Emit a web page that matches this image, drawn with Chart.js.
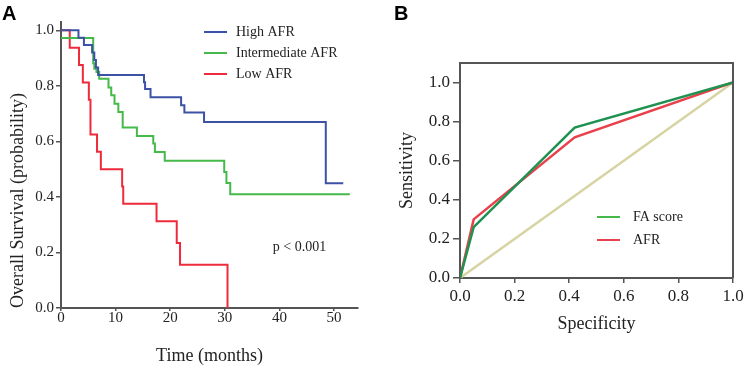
<!DOCTYPE html>
<html>
<head>
<meta charset="utf-8">
<script src="https://cdn.jsdelivr.net/npm/chart.js@4.4.0/dist/chart.umd.min.js"></script>
<style>
  html, body { margin: 0; padding: 0; background: #fff; }
  #wrap { position: relative; width: 749px; height: 370px; }
  canvas { position: absolute; top: 0; }
  #kmChart { left: 0; }
  #rocChart { left: 380px; }
</style>
</head>
<body>
<div id="wrap">
  <canvas id="kmChart" width="380" height="370"></canvas>
  <canvas id="rocChart" width="369" height="370"></canvas>
</div>
<script>
// Panel A - Kaplan-Meier curves (time in months, survival probability)
const highTime = [0, 3.2, 4.2, 5.7, 6.1, 6.4, 6.8, 15.2, 15.4, 16.4, 22.0, 22.6, 26.2, 48.5, 51.7];
const highSurv = [1.0, 0.973, 0.947, 0.92, 0.893, 0.866, 0.839, 0.813, 0.789, 0.759, 0.730, 0.704, 0.670, 0.449, 0.449];

const intTime = [0, 5.9, 6.1, 6.5, 7.0, 8.7, 9.2, 9.8, 10.5, 11.3, 13.9, 16.9, 17.2, 19.0, 29.9, 30.3, 31.0, 52.9];
const intSurv = [0.972, 0.881, 0.862, 0.850, 0.826, 0.794, 0.766, 0.736, 0.706, 0.650, 0.619, 0.592, 0.562, 0.530, 0.490, 0.450, 0.410, 0.410];

const lowTime = [0, 1.6, 3.3, 4.0, 5.1, 5.4, 6.6, 7.3, 11.2, 11.4, 17.5, 21.2, 21.8, 30.5];
const lowSurv = [1.0, 0.9375, 0.875, 0.8125, 0.75, 0.625, 0.5625, 0.5, 0.4375, 0.375, 0.3125, 0.234, 0.156, 0];

const timeTicks = [0, 10, 20, 30, 40, 50];
const probTicks = [0, 0.2, 0.4, 0.6, 0.8, 1.0];

// Panel B - ROC curves
const faX = [0, 0.05, 0.42, 1];
const faY = [0, 0.26, 0.77, 1];
const afrX = [0, 0.05, 0.42, 1];
const afrY = [0, 0.30, 0.72, 1];
const refX = [0, 1];
const refY = [0, 1];
const rocTicks = [0, 0.2, 0.4, 0.6, 0.8, 1.0];

const serif = "'Liberation Serif', 'Times New Roman', serif";
const axisColor = '#555';
const textColor = '#222';

function toPoints(xs, ys) {
  return xs.map((x, i) => ({ x: x, y: ys[i] }));
}

// fixed tick list, so a non-round max doesn't swallow the last label
function useTicks(values) {
  return scale => {
    scale.ticks = values.map(v => ({ value: v }));
  };
}

// panel letter, line legend, free note and optional box
const overlay = {
  id: 'overlay',
  afterDraw(chart, args, opts) {
    const ctx = chart.ctx;
    const area = chart.chartArea;
    ctx.save();

    if (opts.box) {
      ctx.strokeStyle = axisColor;
      ctx.lineWidth = 2;
      ctx.beginPath();
      ctx.moveTo(area.left, area.top);
      ctx.lineTo(area.right, area.top);
      ctx.lineTo(area.right, area.bottom);
      ctx.stroke();
    }

    ctx.fillStyle = '#000';
    ctx.font = "bold 20px 'Liberation Sans', Arial, sans-serif";
    ctx.textAlign = 'left';
    ctx.textBaseline = 'alphabetic';
    ctx.fillText(opts.letter, opts.letterX, 20);

    ctx.font = '14px ' + serif;
    ctx.textBaseline = 'middle';
    const items = chart.data.datasets.filter(d => d.inLegend);
    items.forEach((d, i) => {
      const y = opts.legendY + i * opts.legendGap;
      ctx.strokeStyle = d.legendColor || d.borderColor;
      ctx.lineWidth = 2;
      ctx.beginPath();
      ctx.moveTo(opts.legendX, y);
      ctx.lineTo(opts.legendX + 23, y);
      ctx.stroke();
      ctx.fillStyle = textColor;
      ctx.fillText(d.label, opts.legendX + opts.textGap, y);
    });

    if (opts.note) {
      ctx.fillStyle = textColor;
      ctx.fillText(opts.note.text,
        chart.scales.x.getPixelForValue(opts.note.x),
        chart.scales.y.getPixelForValue(opts.note.y));
    }
    ctx.restore();
  }
};

function axis(cfg) {
  return {
    type: 'linear',
    min: cfg.min,
    max: cfg.max,
    afterBuildTicks: useTicks(cfg.ticks),
    afterFit: cfg.fit,
    ticks: {
      color: textColor,
      padding: cfg.pad,
      font: { family: serif, size: cfg.size },
      callback: cfg.fmt
    },
    grid: { drawOnChartArea: false, tickLength: cfg.tick, color: axisColor, lineWidth: 1.5 },
    border: { color: axisColor, width: 2 },
    title: {
      display: true,
      text: cfg.title,
      color: textColor,
      align: cfg.align || 'center',
      font: { family: serif, size: 18 },
      padding: cfg.titlePad
    }
  };
}

new Chart(document.getElementById('kmChart'), {
  type: 'line',
  data: {
    datasets: [
      { label: 'High AFR', data: toPoints(highTime, highSurv), borderColor: '#3c52a5', inLegend: true },
      { label: 'Intermediate AFR', data: toPoints(intTime, intSurv), borderColor: '#45b94a', inLegend: true },
      { label: 'Low AFR', data: toPoints(lowTime, lowSurv), borderColor: '#ee2b3b', inLegend: true }
    ].map(d => Object.assign(d, { stepped: 'before', borderWidth: 2, pointRadius: 0, fill: false }))
  },
  options: {
    responsive: false,
    animation: false,
    layout: { padding: { left: 0, top: 22, right: 22, bottom: 0 } },
    plugins: {
      legend: { display: false },
      tooltip: { enabled: false },
      overlay: {
        letter: 'A', letterX: 2,
        legendX: 204, legendY: 32, legendGap: 21, textGap: 32,
        note: { text: 'p < 0.001', x: 38.8, y: 0.22 }
      }
    },
    scales: {
      x: axis({ min: 0, max: 54.4, ticks: timeTicks, size: 15, tick: 3, pad: -2, title: 'Time (months)',
        titlePad: { top: 0, bottom: 3 }, fit: s => { s.height = 62; }, fmt: v => v }),
      y: axis({ min: 0, max: 1.03, ticks: probTicks, size: 15, tick: 5, pad: 2, title: 'Overall Survival (probability)',
        align: 'start', titlePad: { top: 7, bottom: 0 }, fit: s => { s.width = 61; }, fmt: v => v.toFixed(1) })
    }
  },
  plugins: [overlay]
});

new Chart(document.getElementById('rocChart'), {
  type: 'line',
  data: {
    datasets: [
      { label: 'FA score', data: toPoints(faX, faY), borderColor: '#1f9150', legendColor: '#45b94a', inLegend: true },
      { label: 'AFR', data: toPoints(afrX, afrY), borderColor: '#e8414b', inLegend: true },
      { label: 'Reference', data: toPoints(refX, refY), borderColor: '#d6d4a2', inLegend: false }
    ].map(d => Object.assign(d, { borderWidth: 2.5, pointRadius: 0, fill: false, tension: 0 }))
  },
  options: {
    responsive: false,
    animation: false,
    layout: { padding: { left: 0, top: 63, right: 16, bottom: 0 } },
    plugins: {
      legend: { display: false },
      tooltip: { enabled: false },
      overlay: {
        letter: 'B', letterX: 14, box: true,
        legendX: 217, legendY: 217, legendGap: 23, textGap: 36
      }
    },
    scales: {
      x: axis({ min: 0, max: 1, ticks: rocTicks, size: 17, tick: 5, pad: 3, title: 'Specificity',
        titlePad: { top: 0, bottom: 35 }, fit: s => { s.height = 92; }, fmt: v => v.toFixed(1) }),
      y: axis({ min: 0, max: 1.1, ticks: rocTicks, size: 17, tick: 7, pad: 3, title: 'Sensitivity',
        titlePad: { top: 16, bottom: 0 }, fit: s => { s.width = 80; }, fmt: v => v.toFixed(1) })
    }
  },
  plugins: [overlay]
});
</script>
</body>
</html>
